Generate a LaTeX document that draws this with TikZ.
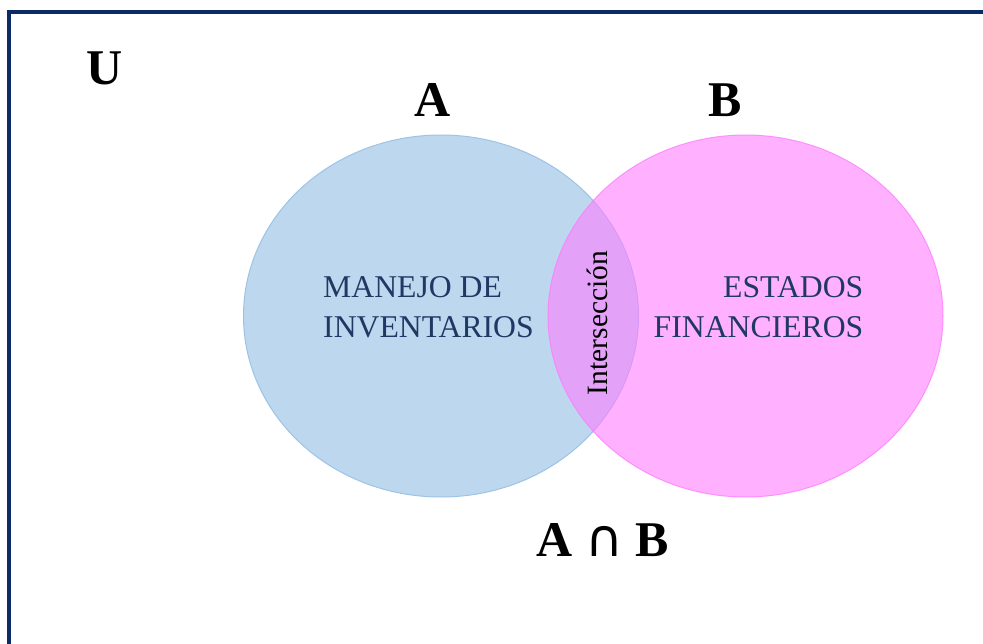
\documentclass[tikz,border=0pt]{standalone}
\usepackage{fontspec}
\setmainfont{Liberation Serif}
\newfontfamily\simbolos{DejaVu Sans}
\usepackage{xcolor}
\usepackage{tikz}
\usetikzlibrary{shapes.geometric}

\definecolor{marco}{HTML}{0B2A66}
\definecolor{azulA}{RGB}{189,215,238}
\definecolor{bordeA}{RGB}{157,195,230}
\definecolor{rosaB}{RGB}{255,125,255}
\definecolor{textoazul}{HTML}{1F3864}

\begin{document}
\begin{tikzpicture}[x=1pt,y=-1pt,
    letra/.style={font=\fontsize{50}{50}\selectfont\bfseries, inner sep=0pt},
    texto/.style={font=\fontsize{31.7}{40}\selectfont, text=textoazul, inner sep=0pt}]
  \useasboundingbox (0,0) rectangle (983,644);
  \draw[line width=4pt, color=marco] (9,660) -- (9,12) -- (1000,12);

  \draw (441,316) node[ellipse, minimum width=395pt, minimum height=362pt, fill=azulA, draw=bordeA, line width=1pt] (conjA) {};
  \draw (745.5,316) node[ellipse, minimum width=395pt, minimum height=362pt, fill=rosaB, draw=rosaB, fill opacity=0.6, draw opacity=0.8, line width=1pt] (conjB) {};

  \draw (105,68) node[letra] (U) {U};
  \draw (433,100) node[letra] (letraA) {A};
  \draw (725,100) node[letra] (letraB) {B};
  \draw (603,540) node[letra] (AinterB) {A {\simbolos\mdseries\fontsize{52}{52}\selectfont ∩} B};

  \draw (428.5,307) node[texto, align=left] (inventarios) {MANEJO DE\\INVENTARIOS};
  \draw (758.5,307) node[texto, align=right] (estados) {ESTADOS\\FINANCIEROS};
  \draw (597,323) node[font=\fontsize{29.5}{29.5}\selectfont, rotate=90, inner sep=0pt] (inter) {Intersección};
\end{tikzpicture}
\end{document}
